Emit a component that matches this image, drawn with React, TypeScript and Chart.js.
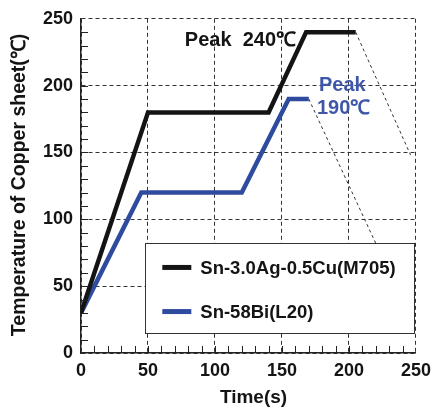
import React, { useEffect, useRef } from 'react';
import { Chart, registerables } from 'chart.js';

Chart.register(...registerables);

// ---- data ----
const timeM705 = [0, 50, 140, 168, 205];
const tempM705 = [30, 180, 180, 240, 240];
const timeL20 = [0, 45, 120, 155, 170];
const tempL20 = [30, 120, 120, 190, 190];
const coolTimeM705 = [205, 246];
const coolTempM705 = [240, 148];
const coolTimeL20 = [170, 220];
const coolTempL20 = [190, 82];
const seriesLabels = ['Sn-3.0Ag-0.5Cu(M705)', 'Sn-58Bi(L20)'];
const peakLabels = ['Peak  240\u2103', 'Peak', '190\u2103'];
const axisMin = 0;
const axisMax = 250;
const majorStep = 50;
const minorStep = 10;
const xTitle = 'Time(s)';
const yTitle = 'Temperature of Copper sheet(\u2103)';

const BLACK = '#141414';
const BLUE = '#2f4b9f';
const BLUE_TEXT = '#3f57a8';
const FONT = "'Liberation Sans', Arial, sans-serif";

const toPts = (xs: number[], ys: number[]) => xs.map((x, i) => ({ x, y: ys[i] }));

const decorPlugin = {
  id: 'decor',
  afterDatasetsDraw(chart: any) {
    const { ctx, chartArea, scales } = chart;
    const xs = scales.x;
    const ys = scales.y;
    ctx.save();
    // minor ticks (inward)
    ctx.strokeStyle = '#222';
    ctx.lineWidth = 1;
    ctx.setLineDash([]);
    for (let v = axisMin + minorStep; v < axisMax; v += minorStep) {
      const px = Math.round(xs.getPixelForValue(v)) + 0.5;
      ctx.beginPath();
      ctx.moveTo(px, chartArea.bottom);
      ctx.lineTo(px, chartArea.bottom - 7);
      ctx.stroke();
      const py = Math.round(ys.getPixelForValue(v)) + 0.5;
      ctx.beginPath();
      ctx.moveTo(chartArea.left, py);
      ctx.lineTo(chartArea.left + 7, py);
      ctx.stroke();
    }

    // peak annotations
    ctx.textAlign = 'center';
    ctx.textBaseline = 'middle';
    ctx.font = `bold 20px ${FONT}`;
    ctx.fillStyle = BLACK;
    ctx.fillText(peakLabels[0], xs.getPixelForValue(119), ys.getPixelForValue(234));
    ctx.fillStyle = BLUE_TEXT;
    ctx.fillText(peakLabels[1], xs.getPixelForValue(195), ys.getPixelForValue(200));
    ctx.fillText(peakLabels[2], xs.getPixelForValue(196), ys.getPixelForValue(183));

    // legend box
    const lx = xs.getPixelForValue(48);
    const rx = xs.getPixelForValue(249);
    const ty = ys.getPixelForValue(82);
    const by = ys.getPixelForValue(15);
    ctx.fillStyle = '#ffffff';
    ctx.fillRect(lx, ty, rx - lx, by - ty);
    ctx.strokeStyle = '#333';
    ctx.lineWidth = 1;
    ctx.strokeRect(Math.round(lx) + 0.5, Math.round(ty) + 0.5, Math.round(rx - lx), Math.round(by - ty));
    const rows = [ys.getPixelForValue(64), ys.getPixelForValue(31)];
    chart.data.datasets.slice(0, 2).forEach((ds: any, i: number) => {
      ctx.strokeStyle = ds.borderColor;
      ctx.lineWidth = 5;
      ctx.beginPath();
      ctx.moveTo(lx + 17, rows[i]);
      ctx.lineTo(lx + 46, rows[i]);
      ctx.stroke();
      ctx.fillStyle = BLACK;
      ctx.textAlign = 'left';
      ctx.font = `bold 18.5px ${FONT}`;
      ctx.fillText(ds.label, lx + 55, rows[i] + 1);
    });

    // axis titles
    ctx.fillStyle = BLACK;
    ctx.textAlign = 'center';
    ctx.font = `bold 19px ${FONT}`;
    ctx.fillText(xTitle, (chartArea.left + chartArea.right) / 2 + 5, 398);
    ctx.translate(20, (chartArea.top + chartArea.bottom) / 2 - 1);
    ctx.rotate(-Math.PI / 2);
    ctx.font = `bold 19.5px ${FONT}`;
    ctx.fillText(yTitle, 0, 0);
    ctx.restore();
  },
};

export default function App() {
  const ref = useRef<HTMLCanvasElement>(null);
  useEffect(() => {
    if (!ref.current) return;
    const tickFont = { family: FONT, size: 18, weight: 'bold' as const };
    const gridCfg = {
      color: '#333',
      lineWidth: 1,
      drawTicks: false,
    };
    const chart = new Chart(ref.current, {
      type: 'line',
      data: {
        datasets: [
          {
            label: seriesLabels[0],
            data: toPts(timeM705, tempM705),
            borderColor: BLACK,
            borderWidth: 4.5,
            pointRadius: 0,
            tension: 0,
          },
          {
            label: seriesLabels[1],
            data: toPts(timeL20, tempL20),
            borderColor: BLUE,
            borderWidth: 4.5,
            pointRadius: 0,
            tension: 0,
          },
          {
            label: 'coolM705',
            data: toPts(coolTimeM705, coolTempM705),
            borderColor: '#333',
            borderWidth: 1,
            borderDash: [3, 3],
            pointRadius: 0,
          },
          {
            label: 'coolL20',
            data: toPts(coolTimeL20, coolTempL20),
            borderColor: '#333',
            borderWidth: 1,
            borderDash: [3, 3],
            pointRadius: 0,
          },
        ],
      },
      options: {
        responsive: false,
        animation: false,
        layout: { padding: { left: 0, top: 14, right: 17, bottom: 0 } },
        plugins: { legend: { display: false }, tooltip: { enabled: false } },
        scales: {
          x: {
            type: 'linear',
            min: axisMin,
            max: axisMax,
            afterFit: (s: any) => { s.height = 57; },
            ticks: { stepSize: majorStep, color: BLACK, font: tickFont, padding: 7, maxRotation: 0 },
            grid: gridCfg,
            border: { display: true, color: '#222', width: 1.5, dash: [4, 3] },
          },
          y: {
            type: 'linear',
            min: axisMin,
            max: axisMax,
            afterFit: (s: any) => { s.width = 81; },
            ticks: { stepSize: majorStep, color: BLACK, font: tickFont, padding: 8 },
            grid: gridCfg,
            border: { display: true, color: '#222', width: 1.5, dash: [4, 3] },
          },
        },
      },
      plugins: [decorPlugin],
    });
    return () => chart.destroy();
  }, []);
  return (
    <div style={{ position: 'fixed', left: 0, top: 0, width: 438, height: 410, background: '#fff' }}>
      <canvas ref={ref} width={438} height={410} style={{ width: 438, height: 410 }} />
    </div>
  );
}
